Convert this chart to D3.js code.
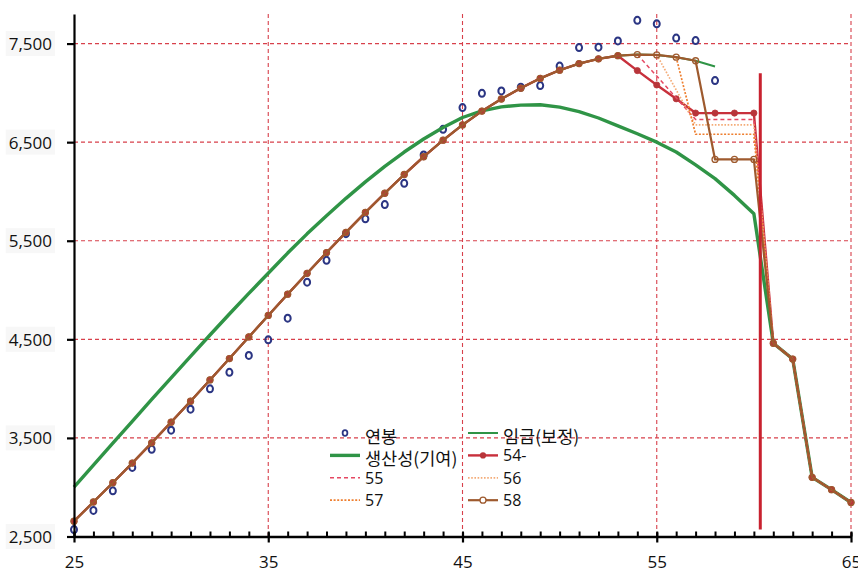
<!DOCTYPE html>
<html>
<head>
<meta charset="utf-8">
<script src="https://cdn.jsdelivr.net/npm/d3@7"></script>
<style>
  html, body { margin: 0; padding: 0; background: #ffffff; }
  svg { display: block; }
</style>
</head>
<body>
<svg id="chart" width="858" height="573"></svg>
<script>
// ---- data -------------------------------------------------------------
const ages = [25,26,27,28,29,30,31,32,33,34,35,36,37,38,39,40,41,42,43,44,45,
              46,47,48,49,50,51,52,53,54,55,56,57,58,59,60,61,62,63,64,65];

// 연봉 (observed annual pay), ages 25–58
const salary = [2570,2764,2963,3200,3385,3578,3791,3998,4166,4336,4495,4714,5080,5302,
                5572,5722,5867,6083,6371,6630,6851,6995,7020,7057,7074,7272,7459,7463,
                7527,7736,7700,7556,7530,7125];

// 임금(보정) (fitted wage curve), ages 25–58
const wageFit = [2655,2850,3045,3245,3450,3660,3872,4088,4305,4524,4742,4958,5170,5380,
                 5585,5787,5982,6172,6352,6520,6675,6815,6938,7048,7147,7230,7297,7345,
                 7377,7388,7385,7362,7326,7267];

// 생산성(기여) (productivity contribution), ages 25–65
const productivity = [3000,3224,3447,3669,3890,4110,4328,4544,4757,4966,5170,5375,5570,
                      5754,5930,6097,6254,6400,6532,6649,6750,6818,6858,6876,6880,6855,
                      6810,6745,6665,6585,6500,6400,6270,6130,5960,5773,4460,4300,3100,
                      2975,2845];

// post-60 path shared by every wage-peak scenario, ages 61–65
const afterRetire = [4460,4300,3100,2975,2845];

// wage-peak scenarios: values from the age each one leaves the curve
const peak54 = [7226,7080,6940,6795,6795,6795,6795];   // ages 54–60
const peak55 = [7388,7170,6950,6730,6730,6730,6730];   // ages 54–60
const peak56 = [7385,7030,6676,6676,6676,6676];        // ages 55–60
const peak57 = [7362,6580,6580,6580,6580];             // ages 56–60
const peak58 = [7326,6325,6325,6325];                  // ages 57–60

// retirement marker (age, bottom value, top value)
const retireAge = 60.33;
const retireSpan = [2570, 7200];

const yTicks = [2500,3500,4500,5500,6500,7500];
const xTicks = [25,35,45,55,65];

// ---- scales -----------------------------------------------------------
const x = d3.scaleLinear().domain([25, 65]).range([74, 851]);
const y = d3.scaleLinear().domain([2500, 7800]).range([536.5, 14]);

const svg = d3.select("#chart");
const FONT = "'Open Sans', 'Noto Sans', sans-serif";
const KFONT = "'Noto Sans CJK KR', 'Noto Sans', sans-serif";
const GRID = "#d8404b";

const zip = (a, v) => v.map((val, i) => [a[i], val]);
const from = (age) => ages.slice(ages.indexOf(age));

// ---- gridlines --------------------------------------------------------
const grid = svg.append("g");
grid.selectAll("line.h").data(yTicks.filter(d => d > 2500)).join("line")
  .attr("x1", x(25)).attr("x2", x(65))
  .attr("y1", d => y(d)).attr("y2", d => y(d))
  .attr("stroke", GRID).attr("stroke-width", 1.1).attr("stroke-dasharray", "4,3");
grid.selectAll("line.v").data(xTicks.filter(d => d > 25)).join("line")
  .attr("x1", d => x(d)).attr("x2", d => x(d))
  .attr("y1", y(7800)).attr("y2", y(2500))
  .attr("stroke", GRID).attr("stroke-width", 1.1).attr("stroke-dasharray", "4,3");

// ---- series -----------------------------------------------------------
const line = d3.line().x(d => x(d[0])).y(d => y(d[1]));

const wagePath54 = zip(ages, wageFit.slice(0, 29).concat(peak54, afterRetire));
const wagePath55 = zip(from(54), peak55.concat(afterRetire));
const wagePath56 = zip(from(55), peak56.concat(afterRetire));
const wagePath57 = zip(from(56), peak57.concat(afterRetire));
const wagePath58 = zip(ages, wageFit.slice(0, 32).concat(peak58, afterRetire));

const series = [
  { name: "연봉",         data: zip(ages, salary),       kind: "dots" },
  { name: "임금(보정)",    data: zip(ages, wageFit),      color: "#2f9446", width: 2 },
  { name: "생산성(기여)",  data: zip(ages, productivity), color: "#2f9446", width: 3.4 },
  { name: "54-",          data: wagePath54, color: "#c8303c", width: 2.4, marker: "filled" },
  { name: "55",           data: wagePath55, color: "#e54862", width: 1.5, dash: "4,3" },
  { name: "56",           data: wagePath56, color: "#f4ac78", width: 1.7, dash: "1.6,1.6" },
  { name: "57",           data: wagePath57, color: "#ee7f30", width: 1.7, dash: "2,1.6" },
  { name: "58",           data: wagePath58, color: "#9e5a2e", width: 2.2, marker: "open" }
];

const plot = svg.append("g");
series.forEach(s => {
  const g = plot.append("g");
  if (s.kind === "dots") {
    g.selectAll("ellipse").data(s.data).join("ellipse")
      .attr("cx", d => x(d[0])).attr("cy", d => y(d[1]))
      .attr("rx", 3).attr("ry", 3.5)
      .attr("fill", "none").attr("stroke", "#2b3583").attr("stroke-width", 2);
    return;
  }
  g.append("path").attr("d", line(s.data))
    .attr("fill", "none").attr("stroke", s.color).attr("stroke-width", s.width)
    .attr("stroke-linejoin", "round")
    .attr("stroke-dasharray", s.dash || null);
  if (s.marker === "filled") {
    g.selectAll("circle").data(s.data).join("circle")
      .attr("cx", d => x(d[0])).attr("cy", d => y(d[1])).attr("r", 3.1)
      .attr("fill", "#b8353a").attr("stroke", "#b8353a").attr("stroke-width", 0.8);
  } else if (s.marker === "open") {
    g.selectAll("circle").data(s.data).join("circle")
      .attr("cx", d => x(d[0])).attr("cy", d => y(d[1])).attr("r", 3)
      .attr("fill", "none").attr("stroke", s.color).attr("stroke-width", 1.3);
  }
});

// retirement age marker
svg.append("line")
  .attr("x1", x(retireAge)).attr("x2", x(retireAge))
  .attr("y1", y(retireSpan[0])).attr("y2", y(retireSpan[1]))
  .attr("stroke", "#c8222f").attr("stroke-width", 3);

// ---- axes -------------------------------------------------------------
const yAxis = svg.append("g").attr("transform", `translate(${x(25)},0)`)
  .call(d3.axisLeft(y).tickValues(yTicks).tickFormat(d3.format(","))
          .tickSizeInner(7).tickSizeOuter(0));
yAxis.select(".domain").attr("stroke", "#000").attr("stroke-width", 2.2);
yAxis.selectAll(".tick line").attr("stroke", "#000").attr("stroke-width", 2.2);
yAxis.selectAll(".tick text")
  .attr("x", -22).attr("dy", "0.35em")
  .attr("font-family", FONT).attr("font-size", 17).attr("fill", "#111");
yAxis.selectAll(".tick").each(function () {
  const t = d3.select(this).select("text");
  const b = t.node().getBBox();
  d3.select(this).insert("rect", "text")
    .attr("x", b.x - 3).attr("y", b.y - 1).attr("width", b.width + 6).attr("height", b.height + 2)
    .attr("fill", "#f7f7f7");
});

// minor ticks every year, pointing up into the plot
const xMinor = svg.append("g").attr("transform", `translate(0,${y(2500)})`)
  .call(d3.axisBottom(x).tickValues(ages).tickFormat("").tickSizeInner(-5).tickSizeOuter(0));
xMinor.select(".domain").remove();
xMinor.selectAll(".tick line").attr("stroke", "#000").attr("stroke-width", 2);

const xAxis = svg.append("g").attr("transform", `translate(0,${y(2500)})`)
  .call(d3.axisBottom(x).tickValues(xTicks).tickSizeInner(6).tickSizeOuter(0));
xAxis.select(".domain").attr("stroke", "#000").attr("stroke-width", 2.4);
xAxis.selectAll(".tick line").attr("y1", -4).attr("y2", 6)
  .attr("stroke", "#000").attr("stroke-width", 2.2);
xAxis.selectAll(".tick text")
  .attr("y", 26).attr("dy", "0.35em")
  .attr("font-family", FONT).attr("font-size", 17).attr("fill", "#111");

// ---- legend -----------------------------------------------------------
const legend = svg.append("g");
const colX = [330, 468];
const rowY = r => 433 + r * 22.4;
const hangul = /[\uAC00-\uD7A3]/;
series.forEach((s, i) => {
  const cx = colX[i % 2], cy = rowY(Math.floor(i / 2));
  const g = legend.append("g");
  if (s.kind === "dots") {
    g.append("ellipse").attr("cx", cx + 15).attr("cy", cy).attr("rx", 2.4).attr("ry", 2.8)
      .attr("fill", "none").attr("stroke", "#2b3583").attr("stroke-width", 1.8);
  } else {
    g.append("line").attr("x1", cx).attr("x2", cx + 30).attr("y1", cy).attr("y2", cy)
      .attr("stroke", s.color).attr("stroke-width", s.width)
      .attr("stroke-dasharray", s.dash || null);
    if (s.marker === "filled") {
      g.append("circle").attr("cx", cx + 15).attr("cy", cy).attr("r", 3.1).attr("fill", "#b8353a");
    } else if (s.marker === "open") {
      g.append("circle").attr("cx", cx + 15).attr("cy", cy).attr("r", 3)
        .attr("fill", "#fff").attr("stroke", s.color).attr("stroke-width", 1.3);
    }
  }
  const isKo = hangul.test(s.name);
  g.append("text")
    .attr("x", cx + 35).attr("y", cy + (isKo ? 10 : 5.8))
    .attr("font-family", isKo ? KFONT : FONT).attr("font-size", isKo ? 17.5 : 16)
    .attr("fill", "#111")
    .text(s.name);
});
</script>
</body>
</html>
